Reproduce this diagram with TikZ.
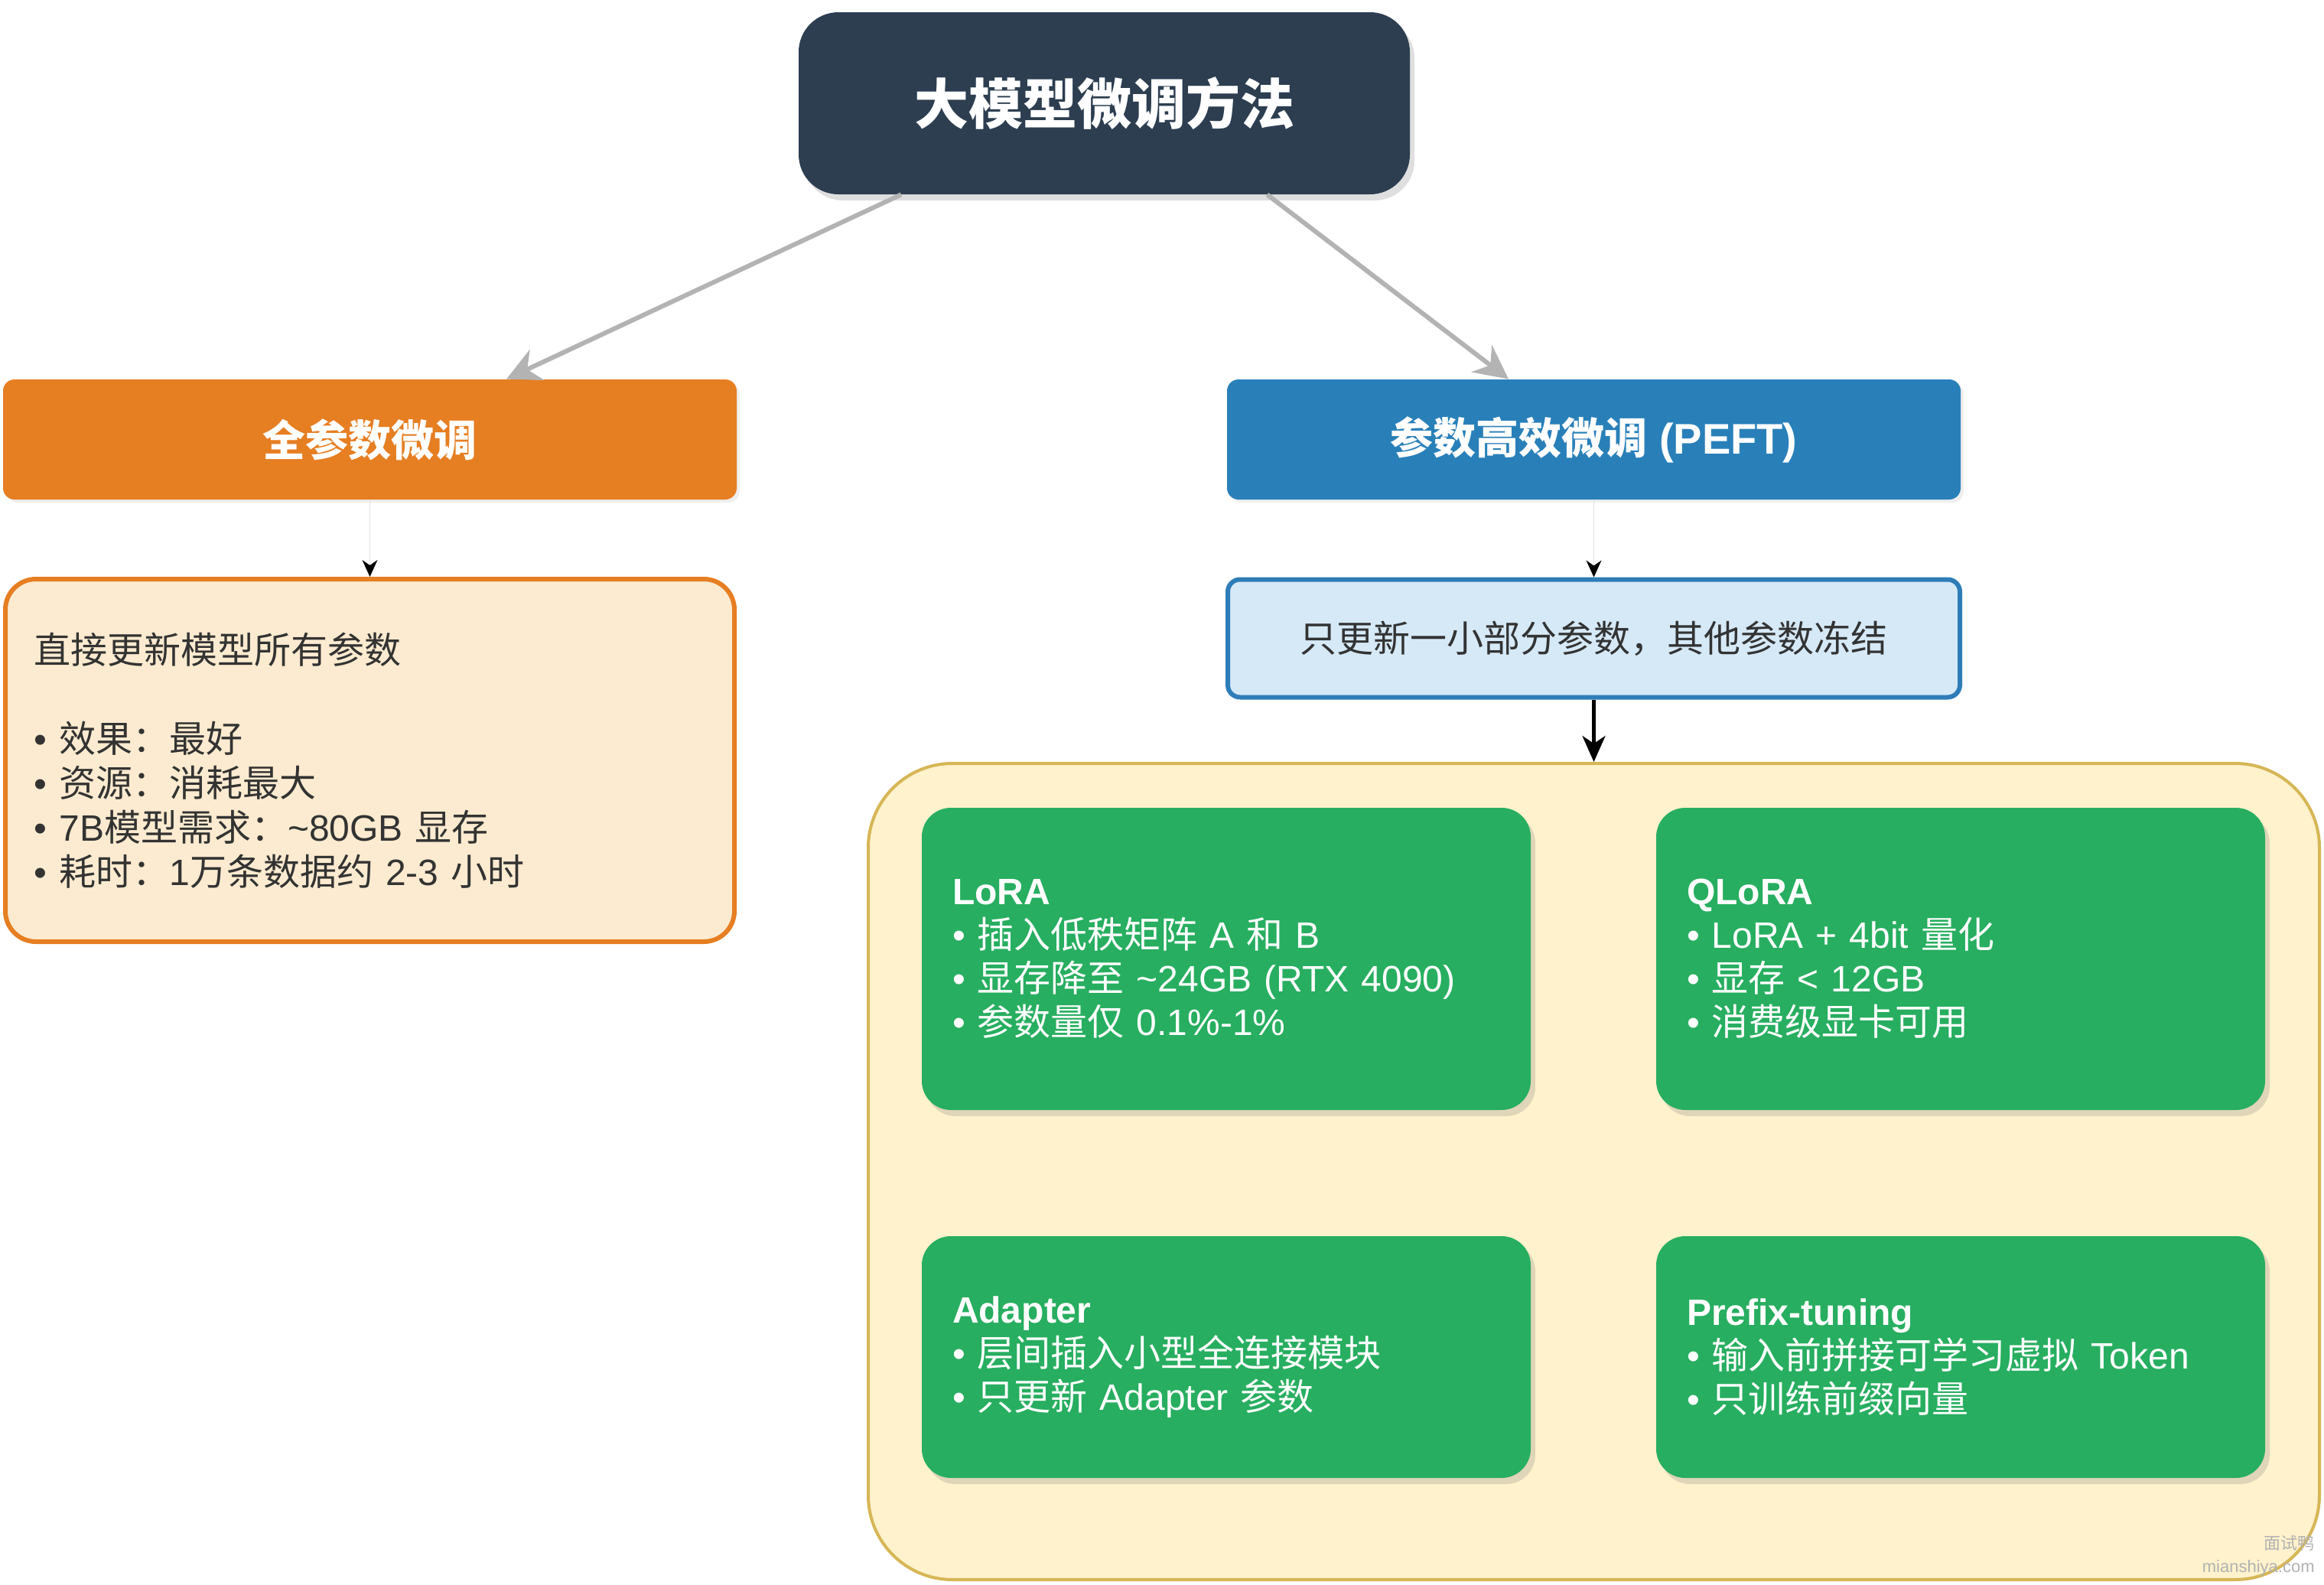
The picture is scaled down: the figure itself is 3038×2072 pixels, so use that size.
\documentclass[tikz,border=0pt]{standalone}
\usepackage{fontspec}
\setmainfont{Liberation Sans}
\newfontfamily\cjk{Noto Sans CJK SC}
\usetikzlibrary{arrows.meta,shadows}
\newcommand{\zh}[1]{{\cjk #1}}
\definecolor{cTop}{HTML}{2C3E50}
\definecolor{cOrange}{HTML}{E67E22}
\definecolor{cOrangeL}{HTML}{FCEBD0}
\definecolor{cBlue}{HTML}{2980B9}
\definecolor{cBlueL}{HTML}{D6E9F7}
\definecolor{cBlueB}{HTML}{2E7DB8}
\definecolor{cYel}{HTML}{FFF2CC}
\definecolor{cYelB}{HTML}{D6B656}
\definecolor{cGreen}{HTML}{27AE60}
\definecolor{cText}{HTML}{333333}
\definecolor{cArrow}{HTML}{B3B3B3}
\tikzset{
  topbox/.style={rounded corners=26pt, fill=cTop, minimum width=399.5pt, minimum height=119pt,
    inner sep=0pt, text=white, font=\fontsize{35.5}{42}\selectfont\bfseries,
    drop shadow={shadow xshift=3pt, shadow yshift=-4pt, opacity=0.25}},
  hdr/.style={rounded corners=7.5pt, minimum width=479.5pt, minimum height=78.5pt, inner sep=0pt,
    text=white, font=\fontsize{28}{34}\selectfont\bfseries,
    drop shadow={shadow xshift=2pt, shadow yshift=-2pt, opacity=0.12}},
  descbox/.style={rounded corners=#1, line width=3pt, text=cText, inner ysep=0pt,
    font=\fontsize{24}{29}\selectfont},
  greenbox/.style={rounded corners=19pt, fill=cGreen, text=white, minimum width=398pt,
    text width=358pt, inner xsep=20pt, inner ysep=0pt, align=left,
    font=\fontsize{24}{28.5}\selectfont,
    drop shadow={shadow xshift=3pt, shadow yshift=-4pt, opacity=0.25}},
  grayarrow/.style={draw=cArrow, line width=3pt, -{Stealth[length=22pt, width=22pt, inset=7pt]}},
  thinarrow/.style={draw=black!12, line width=0.5pt, -{Stealth[black, length=11pt, width=10pt, inset=3.5pt]}},
  blackarrow/.style={draw=black, line width=2.2pt, -{Stealth[length=17pt, width=15pt, inset=5pt]}},
}
\begin{document}
\begin{tikzpicture}[x=0.5pt, y=-0.5pt]
\useasboundingbox[fill=white] (0,0) rectangle (3038,2072);

% top
\node[topbox] (top) at (1443.5,135) {\zh{大模型微调方法}};

% headers
\node[hdr, fill=cOrange] (full) at (483.5,574.5) {\zh{全参数微调}};
\node[hdr, fill=cBlue] (peft) at (2083.5,574.5) {\zh{参数高效微调} (PEFT)};

% descriptions
\node[descbox=20pt, draw=cOrange, fill=cOrangeL, minimum width=476.5pt, minimum height=237pt,
      text width=438.9pt, inner xsep=18.8pt, align=left] (fulldesc) at (483.5,994)
  {\zh{直接更新模型所有参数}\\[29pt]
   • \zh{效果：最好}\\
   • \zh{资源：消耗最大}\\
   • 7B\zh{模型需求：}\textasciitilde80GB \zh{显存}\\
   • \zh{耗时：}1\zh{万条数据约} 2-3 \zh{小时}};

\node[descbox=8pt, draw=cBlueB, fill=cBlueL, minimum width=478.5pt, minimum height=77pt,
      align=center] (peftdesc) at (2083.5,834.5)
  {\zh{只更新一小部分参数，其他参数冻结}};

% container
\node[rounded corners=55pt, draw=cYelB, fill=cYel, line width=2pt,
      minimum width=948.5pt, minimum height=533.5pt] (methods) at (2083.5,1531.5) {};

% methods
\node[greenbox, minimum height=197.5pt] (lora) at (1603,1253.5)
  {\textbf{LoRA}\\
   • \zh{插入低秩矩阵} A \zh{和} B\\
   • \zh{显存降至} \textasciitilde24GB (RTX 4090)\\
   • \zh{参数量仅} 0.1\%-1\%};
\node[greenbox, minimum height=197.5pt] (qlora) at (2563,1253.5)
  {\textbf{QLoRA}\\
   • LoRA + 4bit \zh{量化}\\
   • \zh{显存} < 12GB\\
   • \zh{消费级显卡可用}};
\node[greenbox, minimum height=158pt] (adapter) at (1603,1774)
  {\textbf{Adapter}\\
   • \zh{层间插入小型全连接模块}\\
   • \zh{只更新} Adapter \zh{参数}};
\node[greenbox, minimum height=158pt] (prefix) at (2563,1774)
  {\textbf{Prefix-tuning}\\
   • \zh{输入前拼接可学习虚拟} Token\\
   • \zh{只训练前缀向量}};

% connectors
\draw[grayarrow] ([xshift=-132.75pt]top.south) -- ([xshift=89.25pt]full.north);
\draw[grayarrow] ([xshift=106.5pt]top.south) -- ([xshift=-55.75pt]peft.north);
\draw[thinarrow] (full.south) -- (fulldesc.north);
\draw[thinarrow] (peft.south) -- (peftdesc.north);
\draw[blackarrow] (peftdesc.south) -- (methods.north);

% watermark
\node[anchor=south east, align=right, text=black!30, inner sep=0pt,
      font=\fontsize{11}{15}\selectfont] (wm) at (3026,2060)
  {\zh{面试鸭}\\mianshiya.com};
\end{tikzpicture}
\end{document}
